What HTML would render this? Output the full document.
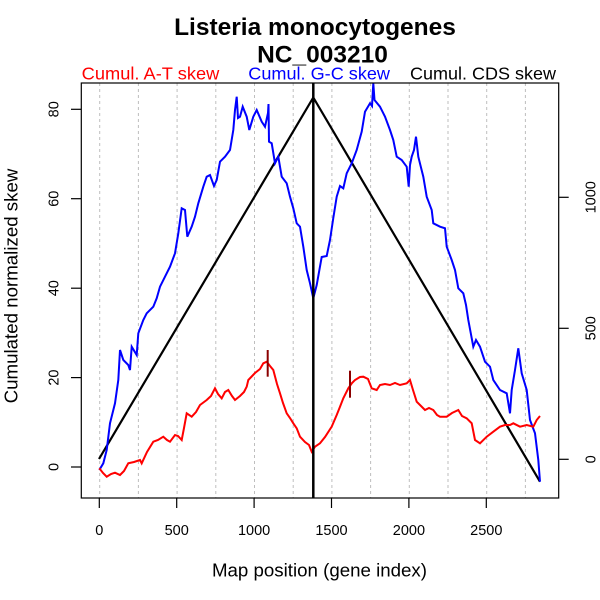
<!DOCTYPE html>
<html><head><meta charset="utf-8"><style>
html,body{margin:0;padding:0;background:#fff;}
svg{display:block;}
text{font-family:"Liberation Sans",Arial,sans-serif;}
</style></head><body>
<svg width="600" height="600" viewBox="0 0 600 600" xmlns="http://www.w3.org/2000/svg">
<rect width="600" height="600" fill="#fff"/>
<!-- title -->
<text x="315" y="35" font-size="24.5" font-weight="bold" text-anchor="middle">Listeria monocytogenes</text>
<text x="322.5" y="62.5" font-size="24.5" font-weight="bold" text-anchor="middle">NC_003210</text>
<!-- legend -->
<text x="81.7" y="79.5" font-size="17.5" fill="#ff0000" textLength="137.6" lengthAdjust="spacingAndGlyphs">Cumul. A-T skew</text>
<text x="248.3" y="79.5" font-size="17.5" fill="#0000ff" textLength="141.7" lengthAdjust="spacingAndGlyphs">Cumul. G-C skew</text>
<text x="410" y="79.5" font-size="17.5" fill="#000" textLength="146" lengthAdjust="spacingAndGlyphs">Cumul. CDS skew</text>
<!-- grid -->
<g stroke="#bebebe" stroke-width="1" stroke-dasharray="3,3">
<line x1="99.7" y1="83" x2="99.7" y2="498"/>
<line x1="138.4" y1="83" x2="138.4" y2="498"/>
<line x1="177.1" y1="83" x2="177.1" y2="498"/>
<line x1="215.8" y1="83" x2="215.8" y2="498"/>
<line x1="254.5" y1="83" x2="254.5" y2="498"/>
<line x1="293.2" y1="83" x2="293.2" y2="498"/>
<line x1="331.9" y1="83" x2="331.9" y2="498"/>
<line x1="370.6" y1="83" x2="370.6" y2="498"/>
<line x1="409.3" y1="83" x2="409.3" y2="498"/>
<line x1="448.0" y1="83" x2="448.0" y2="498"/>
<line x1="486.7" y1="83" x2="486.7" y2="498"/>
<line x1="525.4" y1="83" x2="525.4" y2="498"/>
</g>
<!-- CDS skew -->
<polyline fill="none" stroke="#000" stroke-width="2.2" points="99,459 313.3,97.5 540,481.7"/>
<!-- G-C skew -->
<polyline fill="none" stroke="#0000ff" stroke-width="2" stroke-linejoin="miter" points="
99.3,470 103.3,463.3 106.7,450 110,423.3 115,403.3 118.3,380 120,350 123.3,360 128.3,365 130,370 131.7,346.7 136.7,355 138.3,333.3 143.3,320 146.7,313.3 153.3,306.7 156.7,298.3 160,286.7 165,276.7 170,266.7 175,253.3 178.3,233.3 181.7,208.3 185,210 187.3,236.7 191.7,226.7 195,216.7 198.3,203.3 203.3,186.7 206.7,176.7 210,175 214,186 216.7,180 220,161.7 225,156.7 230,150 233.3,130 235,110 236.7,96.7 238,118 240,116.7 242.7,106.7 246.7,116.7 249.3,130 253.3,116.7 256.7,110 261.7,121.7 265,126.7 268,113 268.5,104 269,141.7 271.7,143.3 275,163.3 278.3,156.7 281.7,176.7 286.7,183.3 290,196.7 293.3,208.3 296.7,223.3 300,226.7 303.3,246.7 306.7,270 310,283.3 313.3,298.3 316.7,285 321.7,257 326.7,256 330,240 333.3,218 336.7,196.7 340,186 343.3,188.3 346.7,173.3 351.7,163.3 356.7,150 361.7,131.7 365,111.7 370,103.3 372,106 373.3,83.3 374.5,100 380,106.7 385,116.7 390,130 393.3,140 396.7,156.7 401.7,160 406.7,166.7 408.7,186.7 410,165 411.7,156.7 414,150 416,136.7 418.3,156.7 423.3,176.7 426.7,196.7 431.7,210 433.3,223.3 440,226.7 445,228.3 446.7,246.7 451.7,260 455,270 458.3,288.3 463.3,293.3 466,305 468.3,320 473.3,346.7 476,340 480,346.7 485,361.7 490,366.7 493.3,380 500,390 506.7,393.3 510,413.3 511.7,390 515,370 518.3,348.3 521.7,373.3 526.7,390 530,420 535,433.3 538.3,460 540,481.7"/>
<!-- A-T skew -->
<polyline fill="none" stroke="#ff0000" stroke-width="2" points="
99.3,468.3 103,473 106.7,476.7 111,474 115,472.7 120,475 124,471 128.3,463.3 134,462 140,460 141.7,463.3 147,452 153.3,441.7 158,440 163.3,436.7 167,440 170,441.7 175,435 178,436 181.7,440 184,428 186.7,413.3 191.7,416.7 196,412 200,405 206.7,400 211,396 215,388.3 218,394 221.7,398.3 225,392 228.3,390 232,396 235,400 240,396 244,392 246.7,386.7 248.3,380 255,373 260,369 263.3,363.3 266.7,361.7 270,366 273.3,370 277,384 280,393.3 283,403 286.7,413.3 290,418 293.3,423.3 296.7,428.3 300,436.7 305,442 309,445 311.7,451.7 315,446.7 320,443.3 325,437 331.7,426.7 336.7,415 340,406.7 343.3,398.3 348.3,388.3 352,383 355,380 360,377 363.3,376.7 368,379 371.7,388.3 376.7,390 380,385 385,384 390,385 395,383 400,385 406.7,383.3 410,380 413,390 416.7,401.7 420,405 425,410 429,408 433.3,410 437,415 440,416.7 446.7,416.7 452,413 458.3,410 462,416 466.7,418.3 471.7,423.3 475,440 480,443.3 486.7,436.7 493.3,431.7 500,426.7 505,425 510,425 513.3,423.3 520,426.7 526.7,425 533.3,426.7 536.7,420 540,416"/>
<g stroke="#8b0000" stroke-width="2">
<line x1="267.7" y1="350" x2="267.7" y2="376.7"/>
<line x1="350" y1="370.7" x2="350" y2="397.7"/>
</g>
<!-- vertical origin line -->
<line x1="313.3" y1="83" x2="313.3" y2="498" stroke="#000" stroke-width="2.5"/>
<!-- box -->
<rect x="81.3" y="83" width="477.4" height="415" fill="none" stroke="#000" stroke-width="1.2"/>
<!-- left axis -->
<g stroke="#000" stroke-width="1.2">
<line x1="71" y1="467" x2="81.3" y2="467"/>
<line x1="71" y1="377.6" x2="81.3" y2="377.6"/>
<line x1="71" y1="288.2" x2="81.3" y2="288.2"/>
<line x1="71" y1="198.7" x2="81.3" y2="198.7"/>
<line x1="71" y1="109.3" x2="81.3" y2="109.3"/>
</g>
<g font-size="14.5" text-anchor="middle">
<text transform="translate(58.3,467) rotate(-90)">0</text>
<text transform="translate(58.3,377.6) rotate(-90)">20</text>
<text transform="translate(58.3,288.2) rotate(-90)">40</text>
<text transform="translate(58.3,198.7) rotate(-90)">60</text>
<text transform="translate(58.3,109.3) rotate(-90)">80</text>
</g>
<!-- right axis -->
<g stroke="#000" stroke-width="1.2">
<line x1="558.7" y1="459.3" x2="568.7" y2="459.3"/>
<line x1="558.7" y1="328.3" x2="568.7" y2="328.3"/>
<line x1="558.7" y1="197.3" x2="568.7" y2="197.3"/>
</g>
<g font-size="14.5" text-anchor="middle">
<text transform="translate(595.5,459.3) rotate(-90)">0</text>
<text transform="translate(595.5,328.3) rotate(-90)">500</text>
<text transform="translate(595.5,197.3) rotate(-90)">1000</text>
</g>
<!-- bottom axis -->
<g stroke="#000" stroke-width="1.2">
<line x1="99.3" y1="498" x2="99.3" y2="508"/>
<line x1="176.7" y1="498" x2="176.7" y2="508"/>
<line x1="254.1" y1="498" x2="254.1" y2="508"/>
<line x1="331.5" y1="498" x2="331.5" y2="508"/>
<line x1="408.9" y1="498" x2="408.9" y2="508"/>
<line x1="486.3" y1="498" x2="486.3" y2="508"/>
</g>
<g font-size="14.5" text-anchor="middle">
<text x="99.3" y="535">0</text>
<text x="176.7" y="535">500</text>
<text x="254.1" y="535">1000</text>
<text x="331.5" y="535">1500</text>
<text x="408.9" y="535">2000</text>
<text x="486.3" y="535">2500</text>
</g>
<!-- axis titles -->
<text x="319.5" y="576.7" font-size="18.7" text-anchor="middle">Map position (gene index)</text>
<text transform="translate(17.5,286) rotate(-90)" font-size="18.7" text-anchor="middle">Cumulated normalized skew</text>
</svg>
</body></html>
